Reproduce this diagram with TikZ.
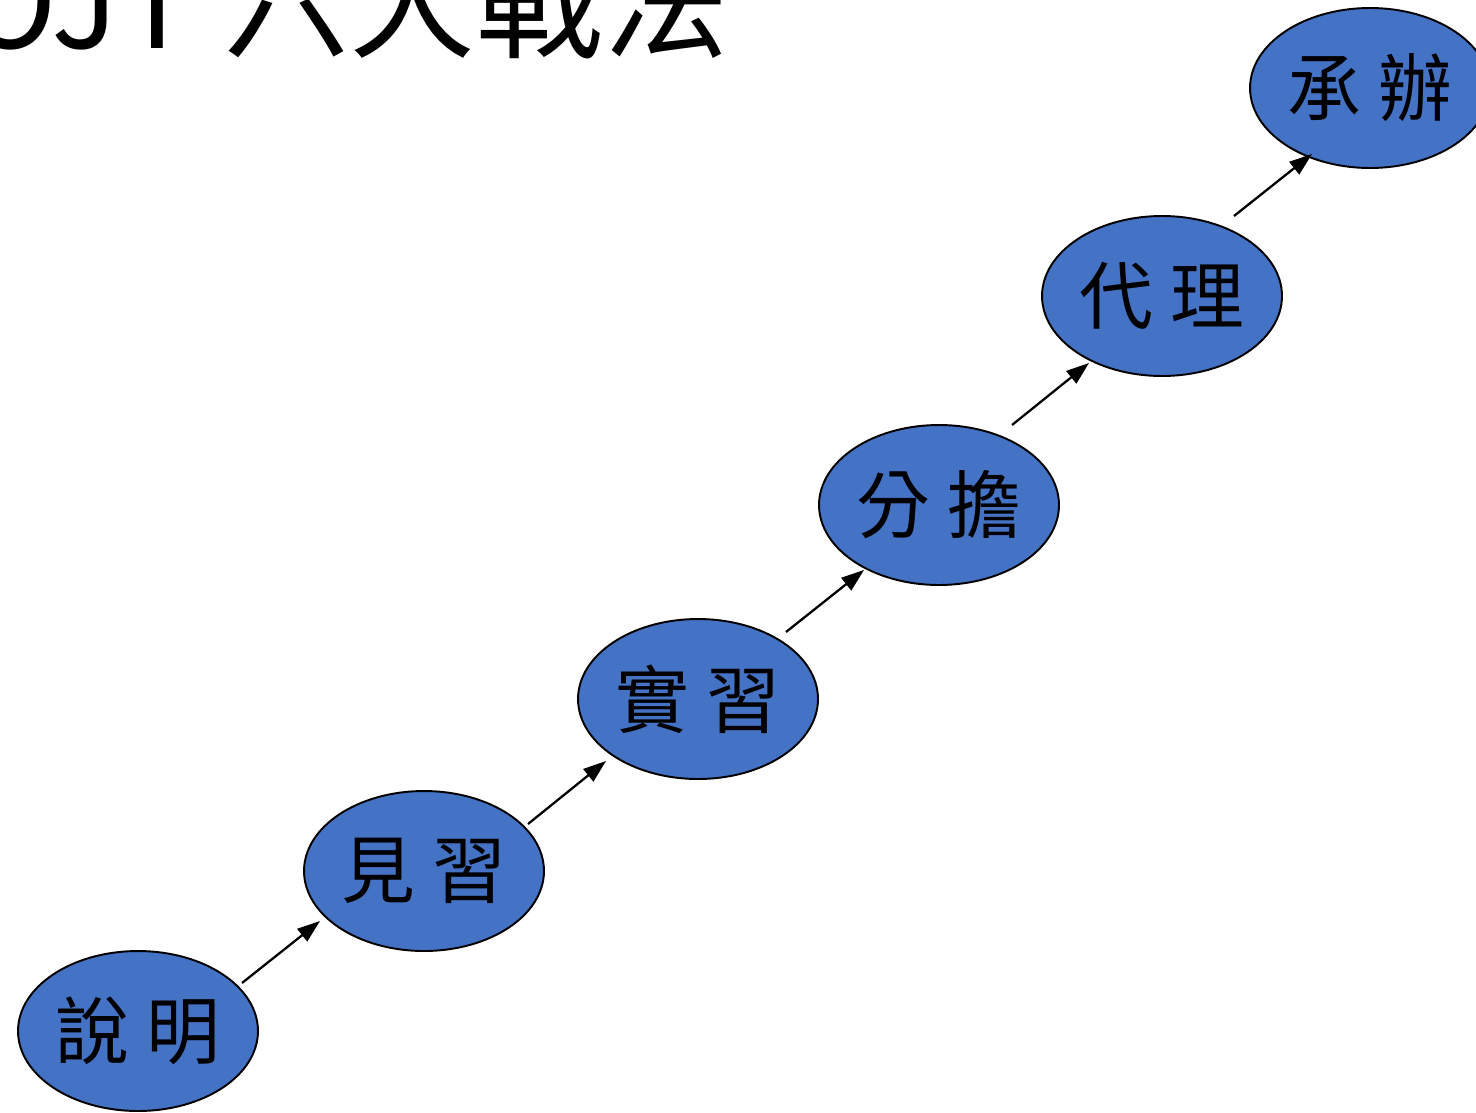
\documentclass[tikz,border=0pt]{standalone}
\usepackage{fontspec}
\setmainfont{Noto Sans CJK TC}
\usetikzlibrary{shapes.geometric}
\usetikzlibrary{arrows.meta}
\definecolor{mblue}{HTML}{4472C4}

\begin{document}
\begin{tikzpicture}[x=0.02cm, y=-0.02cm,
    stage/.style={ellipse, draw=black, line width=1.1pt, fill=mblue,
      minimum width=4.8cm, minimum height=3.2cm, inner sep=0pt,
      font=\fontsize{42}{42}\selectfont},
    flow/.style={-{Triangle[length=13pt, width=9pt]}, line width=1.3pt}]
    \useasboundingbox (0,0) rectangle (1476,1112);
    \node [anchor=base west, inner sep=0pt, font=\fontsize{72}{72}\selectfont] (title) at (-37,48) {OJT 六大戰法};

    \node [stage] (s1) at (138, 1031) {說 明};
    \node [stage] (s2) at (424, 871) {見 習};
    \node [stage] (s3) at (698, 699) {實 習};
    \node [stage] (s4) at (939, 505) {分 擔};
    \node [stage] (s5) at (1162, 296) {代 理};
    \node [stage] (s6) at (1370, 88) {承 辦};

    \draw [flow] ([shift={(104,-48)}]s1.center) -- ([shift={(-104,50)}]s2.center);
    \draw [flow] ([shift={(104,-47)}]s2.center) -- ([shift={(-92,62)}]s3.center);
    \draw [flow] ([shift={(88,-67)}]s3.center) -- ([shift={(-75,65)}]s4.center);
    \draw [flow] ([shift={(73,-80)}]s4.center) -- ([shift={(-73,67)}]s5.center);
    \draw [flow] ([shift={(72,-80)}]s5.center) -- ([shift={(-58,66)}]s6.center);
  \end{tikzpicture}
\end{document}
